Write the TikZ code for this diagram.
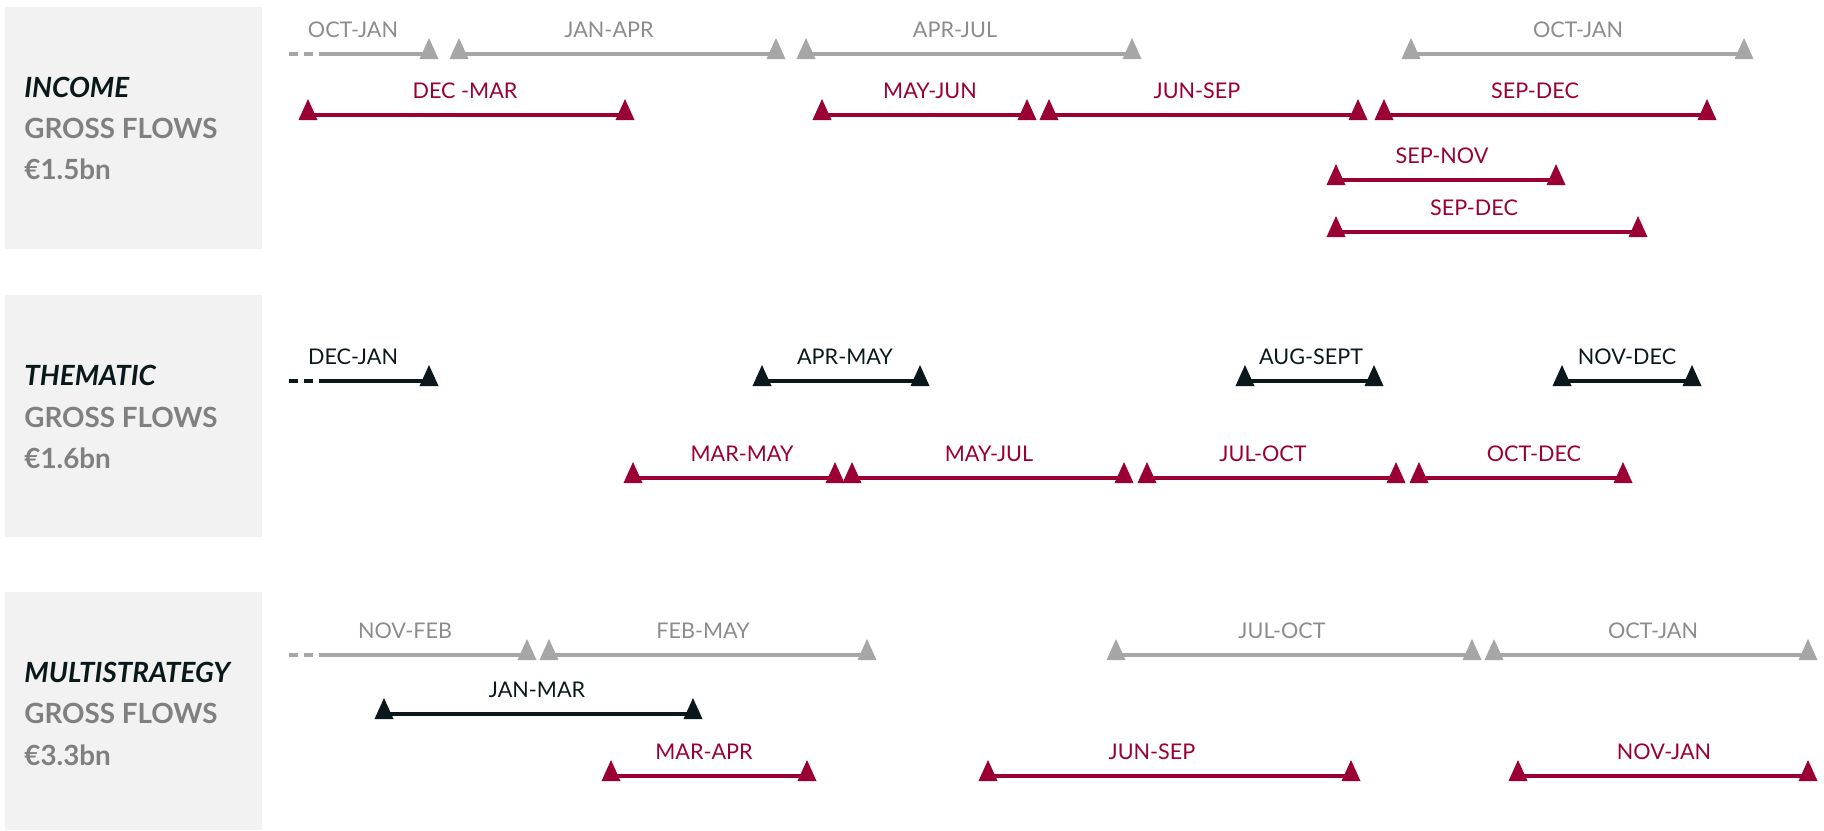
\documentclass[tikz,border=0pt]{standalone}
\usepackage{fontspec}
\setmainfont{Lato}
\definecolor{gline}{HTML}{A6A6A6}
\definecolor{gtxt}{HTML}{8C8C8C}
\definecolor{rline}{HTML}{9B0034}
\definecolor{rtxt}{HTML}{9B0034}
\definecolor{kline}{HTML}{0B181B}
\definecolor{ktxt}{HTML}{0B181B}
\definecolor{boxfill}{HTML}{F2F2F2}
\definecolor{headgray}{HTML}{808080}
\tikzset{
  bar/.style={line width=2.25pt},
  lbl/.style={anchor=base, font=\fontsize{10.8pt}{12pt}\selectfont, inner sep=0pt},
  head/.style={anchor=base west, font=\fontsize{13.9pt}{16pt}\selectfont\bfseries, inner sep=0pt},
  panel/.style={fill=boxfill, draw=none},
  tri/.pic={\fill (-9.5,5) -- (0,-16) -- (9.5,5) -- cycle;}
}
% #1 name, #2 kind (g/r/k), #3 x start, #4 x end, #5 y, #6 label x, #7 label
\newcommand\tbar[7]{%
  \coordinate (#1-s) at (#3,#5);
  \coordinate (#1-e) at (#4,#5);
  \draw[bar, draw=#2line] (#1-s) -- (#1-e);
  \pic[fill=#2line] at (#1-s) {tri};
  \pic[fill=#2line] at (#1-e) {tri};
  \node[lbl, text=#2txt] (#1-l) at (#6,#5-17) {#7};
}
% dashed lead-in: #1 name, #2 kind, #3 end x, #4 y, #5 label x, #6 label
\newcommand\tlead[6]{%
  \coordinate (#1-d) at (289,#4);
  \coordinate (#1-f) at (313,#4);
  \coordinate (#1-s) at (319,#4);
  \coordinate (#1-e) at (#3,#4);
  \draw[line width=2.25pt, draw=#2line, dash pattern=on 4.4pt off 3pt] (#1-d) -- (#1-f);
  \draw[bar, draw=#2line] (#1-s) -- (#1-e);
  \pic[fill=#2line] at (#1-e) {tri};
  \node[lbl, text=#2txt] (#1-l) at (#5,#4-17) {#6};
}
\begin{document}
\begin{tikzpicture}[x=0.5pt,y=-0.5pt]
\useasboundingbox (0,0) rectangle (1824,830);
% panels
\fill[panel] (5,7) rectangle (262,249);
\fill[panel] (5,295) rectangle (262,537);
\fill[panel] (5,592) rectangle (262,830);
% headings
\node[head, text=ktxt, font=\fontsize{13.9pt}{16pt}\selectfont\bfseries\itshape] (h1) at (24,97) {INCOME};
\node[head, text=headgray] (h1b) at (24,138) {GROSS FLOWS};
\node[head, text=headgray] (h1c) at (24,179) {€1.5bn};
\node[head, text=ktxt, font=\fontsize{13.9pt}{16pt}\selectfont\bfseries\itshape] (h2) at (24,385) {THEMATIC};
\node[head, text=headgray] (h2b) at (24,427) {GROSS FLOWS};
\node[head, text=headgray] (h2c) at (24,468) {€1.6bn};
\node[head, text=ktxt, font=\fontsize{13.9pt}{16pt}\selectfont\bfseries\itshape] (h3) at (24,682) {MULTISTRATEGY};
\node[head, text=headgray] (h3b) at (24,723) {GROSS FLOWS};
\node[head, text=headgray] (h3c) at (24,765) {€3.3bn};
% INCOME
\tlead{i1}{g}{429}{54}{353}{OCT-JAN}
\tbar{i2}{g}{459}{776}{54}{609}{JAN-APR}
\tbar{i3}{g}{806}{1132}{54}{955}{APR-JUL}
\tbar{i4}{g}{1411}{1744}{54}{1578}{OCT-JAN}
\tbar{i5}{r}{308}{625}{115}{465}{DEC -MAR}
\tbar{i6}{r}{822}{1027}{115}{930}{MAY-JUN}
\tbar{i7}{r}{1049}{1358}{115}{1197}{JUN-SEP}
\tbar{i8}{r}{1384}{1707}{115}{1535}{SEP-DEC}
\tbar{i9}{r}{1336}{1556}{180}{1442}{SEP-NOV}
\tbar{i10}{r}{1336}{1638}{232}{1474}{SEP-DEC}
% THEMATIC
\tlead{t1}{k}{429}{381}{353}{DEC-JAN}
\tbar{t2}{k}{762}{920}{381}{845}{APR-MAY}
\tbar{t3}{k}{1245}{1374}{381}{1311}{AUG-SEPT}
\tbar{t4}{k}{1562}{1692}{381}{1627}{NOV-DEC}
\tbar{t5}{r}{633}{835}{478}{742}{MAR-MAY}
\tbar{t6}{r}{852}{1124}{478}{989}{MAY-JUL}
\tbar{t7}{r}{1147}{1396}{478}{1263}{JUL-OCT}
\tbar{t8}{r}{1419}{1623}{478}{1534}{OCT-DEC}
% MULTISTRATEGY
\tlead{m1}{g}{527}{655}{405}{NOV-FEB}
\tbar{m2}{g}{549}{867}{655}{703}{FEB-MAY}
\tbar{m3}{g}{1116}{1472}{655}{1282}{JUL-OCT}
\tbar{m4}{g}{1494}{1808}{655}{1653}{OCT-JAN}
\tbar{m5}{k}{384}{693}{714}{537}{JAN-MAR}
\tbar{m6}{r}{611}{807}{776}{704}{MAR-APR}
\tbar{m7}{r}{988}{1351}{776}{1152}{JUN-SEP}
\tbar{m8}{r}{1518}{1808}{776}{1664}{NOV-JAN}
\end{tikzpicture}
\end{document}
